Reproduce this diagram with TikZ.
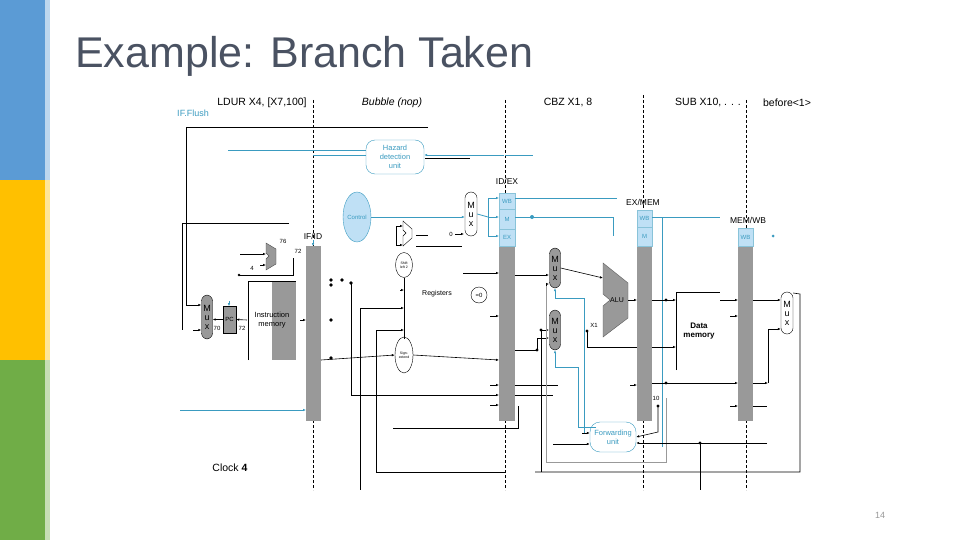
\documentclass[tikz,border=0pt]{standalone}
\usepackage{fontspec}
\setmainfont{Liberation Sans}
\usetikzlibrary{arrows.meta,shapes.geometric}
\definecolor{teal1}{HTML}{3A9BC0}
\definecolor{lb}{HTML}{BFE0F5}
\definecolor{gr}{HTML}{999999}
\definecolor{ttl}{HTML}{4A5262}
\definecolor{sbBlue}{HTML}{5B9BD5}
\definecolor{sbYel}{HTML}{FFC000}
\definecolor{sbGrn}{HTML}{70AD47}
\begin{document}
\begin{tikzpicture}[x=1pt,y=-1pt,
 lab/.style={font=\fontsize{10.5}{11}\selectfont,inner sep=0},
 sm/.style={font=\fontsize{6}{7}\selectfont,inner sep=0},
 dsh/.style={densely dashed,line width=0.7pt},
 tl/.style={teal1,line width=0.8pt},
 bl/.style={black,line width=0.6pt},
 ar/.style={-{Latex[length=3pt,width=2.5pt]}},
 dot/.style={circle,fill=black,inner sep=1.4pt},
 mux/.style={draw,rounded corners=6pt,minimum width=12pt,minimum height=44pt,align=center,inner sep=0,font=\fontsize{9}{9}\selectfont}]
\useasboundingbox (0,0) rectangle (960,540);
\fill[white] (0,0) rectangle (960,540);
% side bars
\fill[sbBlue] (0,0) rectangle (45,180);
\fill[sbBlue!40] (45,0) rectangle (50,180);
\fill[sbYel] (0,180) rectangle (45,360);
\fill[sbYel!40] (45,180) rectangle (50,360);
\fill[sbGrn] (0,360) rectangle (45,540);
\fill[sbGrn!40] (45,360) rectangle (50,540);
\node[anchor=base west,inner sep=0,text=ttl,font=\fontsize{43}{43}\selectfont] (title) at (75,68) {Example: Branch Taken};
\node[text=gr,font=\fontsize{9}{10}\selectfont] (pg) at (880,515) {14};
% dashed stage lines
\draw[dsh] (313,100) -- (313,490);
\draw[dsh] (505,100) -- (505,490);
\draw[dsh] (643,95) -- (643,490);
\draw[dsh] (746,100) -- (746,490);
\node[lab] (l1) at (262,103) {LDUR X4, [X7,100]};
\node[lab,font=\fontsize{10.5}{11}\selectfont\itshape] (l2) at (392,103) {Bubble (nop)};
\node[lab] (l3) at (568,103) {CBZ X1, 8};
\node[lab] (l4) at (708,103) {SUB X10, . . .};
\node[lab] (l5) at (787,103) {before<1>};
\node[lab,text=teal1,font=\fontsize{9}{9}\selectfont] (fl) at (193,113) {IF.Flush};
\node[lab] (clk) at (230,468) {Clock \textbf{4}};
% pipeline registers
\fill[gr] (306,246) rectangle (321,421);
\node[lab,font=\fontsize{8.5}{9}\selectfont] (ifid) at (313,236) {IF/ID};
\fill[gr] (499,246) rectangle (515,421);
\draw[teal1!60,fill=lb] (499,193) rectangle (515,209) node[midway,sm,text=teal1] {WB};
\draw[teal1!60,fill=lb] (499,209) rectangle (515,229) node[midway,sm,text=teal1] {M};
\draw[teal1!60,fill=lb] (499,229) rectangle (515,246) node[midway,sm,text=teal1] {EX};
\node[lab,font=\fontsize{8.5}{9}\selectfont] (idex) at (507,181) {ID/EX};
\fill[gr] (637,246) rectangle (652,421);
\draw[teal1!60,fill=lb] (637,210) rectangle (652,227) node[midway,sm,text=teal1] {WB};
\draw[teal1!60,fill=lb] (637,227) rectangle (652,246) node[midway,sm,text=teal1] {M};
\node[lab,font=\fontsize{8.5}{9}\selectfont] (exmem) at (643,202) {EX/MEM};
\fill[gr] (738,246) rectangle (753,421);
\draw[teal1!60,fill=lb] (738,228) rectangle (753,246) node[midway,sm,text=teal1] {WB};
\node[lab,font=\fontsize{8.5}{9}\selectfont] (memwb) at (748,220) {MEM/WB};
% units
\node[draw=teal1,rounded corners=9pt,minimum width=58pt,minimum height=34pt,align=center,text=teal1,font=\fontsize{7.5}{9}\selectfont,inner sep=0] (hdu) at (395,157) {Hazard\\detection\\unit};
\node[ellipse,draw=teal1,fill=lb,minimum width=28pt,minimum height=50pt,inner sep=0,sm,text=teal1] (ctl) at (357,217) {Control};
\node[mux] (mux1) at (471,214) {M\\u\\x};
\node[mux,fill=gr,minimum width=11pt,minimum height=40pt] (mux2) at (555,268) {M\\u\\x};
\node[mux,fill=gr,minimum width=11pt,minimum height=40pt] (mux3) at (555,330) {M\\u\\x};
\node[mux,fill=gr,minimum width=11pt,minimum height=44pt] (mux0) at (207,317) {M\\u\\x};
\node[mux,minimum height=42pt] (mux4) at (787,313) {M\\u\\x};
\draw[fill=gr,draw=gr!60!black] (603,263) -- (628,283) -- (628,318) -- (603,337) -- (603,306) -- (610,300) -- (603,294) -- cycle;
\node[sm,font=\fontsize{7}{8}\selectfont] (alu) at (617,300) {ALU};
\draw[bl] (676,370) -- (676,292) -- (720,292);
\node[lab,align=center,font=\fontsize{8}{9}\selectfont\bfseries] (dm) at (699,331) {Data\\memory};
\node[draw=teal1,rounded corners=10pt,minimum width=46pt,minimum height=30pt,align=center,text=teal1,font=\fontsize{7.5}{9}\selectfont,inner sep=0] (fwd) at (613,437) {Forwarding\\unit};
\node[draw,fill=gr,minimum width=13pt,minimum height=27pt,inner sep=0,sm] (pc) at (229.5,319.5) {PC};
\fill[gr] (272,281) rectangle (296,360);
\draw[bl] (248,360) -- (248,281) -- (296,281);
\node[lab,align=center,font=\fontsize{7.5}{9}\selectfont] (im) at (272,320) {Instruction\\memory};
\draw[fill=gr,draw=gr!50!black] (266,243) -- (276,249) -- (276,264) -- (266,270) -- (266,259) -- (269,256) -- (266,253) -- cycle;
\node[sm] (n76) at (283,241) {76};
\node[sm] (n72) at (298,251) {72};
\node[sm] (n4) at (252,268) {4};
\node[sm] (n70) at (217,328) {70};
\node[sm] (n72b) at (242,328) {72};
\draw (403,221) -- (412,229) -- (412,238) -- (403,246) -- (403,236) -- (406,233) -- (403,230) -- cycle;
\node[ellipse,draw,minimum width=17pt,minimum height=25pt,inner sep=0,font=\fontsize{3.5}{4}\selectfont,align=center] (shl) at (404,265) {Shift\\left 2};
\node[ellipse,draw,minimum width=18pt,minimum height=36pt,inner sep=0,font=\fontsize{3.5}{4}\selectfont,align=center] (sx) at (404,355) {Sign-\\extend};
\node[lab,font=\fontsize{7}{8}\selectfont] (reg) at (437,294) {Registers};
\node[circle,draw,minimum size=16pt,inner sep=0,sm] (eq) at (479,295) {=0};
\node[sm] (n0) at (451,234) {0};
\node[sm] (x1) at (594,325) {X1};
\node[sm] (n10) at (656,398) {10};
% teal lines
\draw[tl] (228,150) -- (hdu.west|-0,150);
\draw[tl,ar] (hdu.east|-0,155) ++(80,0) -- (hdu.east|-0,155);
\draw[tl] (505,155) -- (533,155);
\draw[tl] (313,155) -- (366,155);
\draw[tl,ar] (180,410) -- (306,410);
\draw[tl,ar] (ctl.east) -- (mux1.west|-ctl.east);
\draw[tl] (mux1.east) -- (488,217);
\draw[tl,ar] (488,198) -- (499,198);
\draw[tl,ar] (488,217) -- (499,217);
\draw[tl,ar] (488,236) -- (499,236);
\draw[tl] (488,198) -- (488,236);
\draw[tl] (515,198) -- (617,198);
\draw[tl] (515,217) -- (613,217) -- (613,236);
\fill[teal1] (532,217) circle (2pt);
\draw[tl] (652,217) -- (720,217);
\draw[tl] (662,217) -- (662,447);
\draw[tl,ar] (584,433) -- (584,298) -- (555,298) -- (mux2.south);
\draw[tl,ar] (596,427) -- (578,427) -- (578,367) -- (555,367) -- (mux3.south);
\draw[teal1,ar] (313,240) -- (313,246);
\draw[teal1,ar] (229,301) -- (229,306);
\fill[teal1] (773,236) circle (1.5pt);
% black wiring
\draw[bl] (428,127) -- (186,127) -- (186,305);
\draw[bl,ar] (186,305) -- (mux0.west|-0,305);
\draw[bl] (289,223) -- (182,223) -- (182,330);
\draw[bl,ar] (193,330) -- (mux0.west|-0,330);
\draw[bl,ar] (pc.west) -- (mux0.east|-pc.west);
\draw[bl,ar] (247,320) -- (pc.east);
\draw[bl,ar] (240,254) -- (266,254);
\draw[bl,ar] (260,265) -- (266,265);
\draw[bl] (239,275) -- (293,275) -- (293,258);
\node[dot,inner sep=1pt] (d0) at (239,275) {};
\draw[bl,ar] (300,320) -- (306,320);
\draw[bl,ar] (321,360) -- (sx.west);
\draw[bl,ar] (sx.east) -- (499,360);
\draw[bl] (416,235) -- (428,235);
\draw[bl,ar] (396,245) -- (396,226) -- (403,226);
\draw[bl,ar] (396,245) -- (403,245);
\draw[bl] (425,158) -- (470,158);
\draw[bl,ar] (455,234) -- (464,234);
\draw[bl] (416,246) -- (462,246);
\draw[bl,ar] (463,273) -- (499,273);
\draw[bl] (404,339) -- (404,278);
\draw[bl,ar] (400,290) -- (404,290);
\draw[bl,ar] (360,308) -- (404,308);
\draw[bl] (360,308) -- (360,490);
\draw[bl,ar] (376,330) -- (404,330);
\draw[bl] (376,330) -- (376,472) -- (505,472);
\draw[bl] (393,428) -- (505,428);
\node[dot] (d1) at (331,280) {};
\node[dot] (d2) at (331,285) {};
\node[dot] (d3) at (342,280) {};
\node[dot] (d4) at (351,283) {};
\node[dot] (d5) at (331,320) {};
\node[dot] (d6) at (331,358) {};
\draw[bl,ar] (351,283) -- (351,395) -- (499,395);
\draw[bl,ar] (490,385) -- (499,385);
\draw[bl,ar] (490,405) -- (499,405);
\draw[bl,ar] (490,316) -- (499,316);
\draw[bl] (515,385) -- (558,385);
\draw[bl] (515,395) -- (553,395);
\draw[bl] (518,406) -- (518,428) -- (505,428);
% EX stage
\draw[bl,ar] (515,275) -- (549,275);
\draw[bl,ar] (515,350) -- (537,350) -- (537,338) -- (549,338);
\draw[bl,ar] (541,330) -- (549,330);
\draw[bl] (541,330) -- (541,472);
\node[dot,inner sep=1.2pt] (d7) at (541,330) {};
\node[dot,inner sep=1.2pt] (d8) at (537,350) {};
\draw[bl,ar] (546,286) -- (546,284) -- (549,284);
\draw[gr,line width=0.6pt] (546,286) -- (546,462) -- (666,462) -- (666,398);
\draw[bl,ar] (mux2.east) -- (603,278);
\draw[bl,ar] (628,300) -- (637,300);
\draw[bl] (587,331) -- (587,347) -- (637,347);
\node[dot,inner sep=1.1pt] (dx1) at (587,331) {};
\draw[bl,ar] (652,300) -- (676,300);
\draw[bl,ar] (652,347) -- (676,347);
\node[dot,inner sep=1.2pt] (d9) at (666,300) {};
\draw[bl] (652,383) -- (666,383);
\node[dot,inner sep=1.2pt] (d10) at (666,383) {};
\draw[bl,ar] (666,383) -- (738,383);
\draw[bl,ar] (720,300) -- (738,300);
\draw[bl,ar] (753,300) -- (mux4.west|-0,300);
\draw[bl,ar] (768,383) -- (768,329) -- (mux4.west|-0,329);
\draw[bl,ar] (753,383) -- (768,383);
\draw[bl] (753,406) -- (767,406);
\draw[bl] (mux4.east) ++(0,-20) -- (800,294) -- (800,472) -- (535,472);
\draw[bl,ar] (658,406) -- (658,432) -- (fwd.east);
\node[dot,inner sep=1.2pt] (d11) at (658,406) {};
\draw[bl,ar] (767,443) -- (fwd.east|-0,443);
\node[dot,inner sep=1.2pt] (d12) at (700,443) {};
\draw[bl] (700,443) -- (700,490);
\draw[bl,ar] (553,444) -- (fwd.west|-0,444);
\draw[bl,ar] (582,433) -- (fwd.west|-0,433);
\draw[bl,ar] (630,385) -- (637,385);
\draw[bl,ar] (730,406) -- (738,406);
\draw[bl,ar] (730,316) -- (738,316);
\end{tikzpicture}
\end{document}
